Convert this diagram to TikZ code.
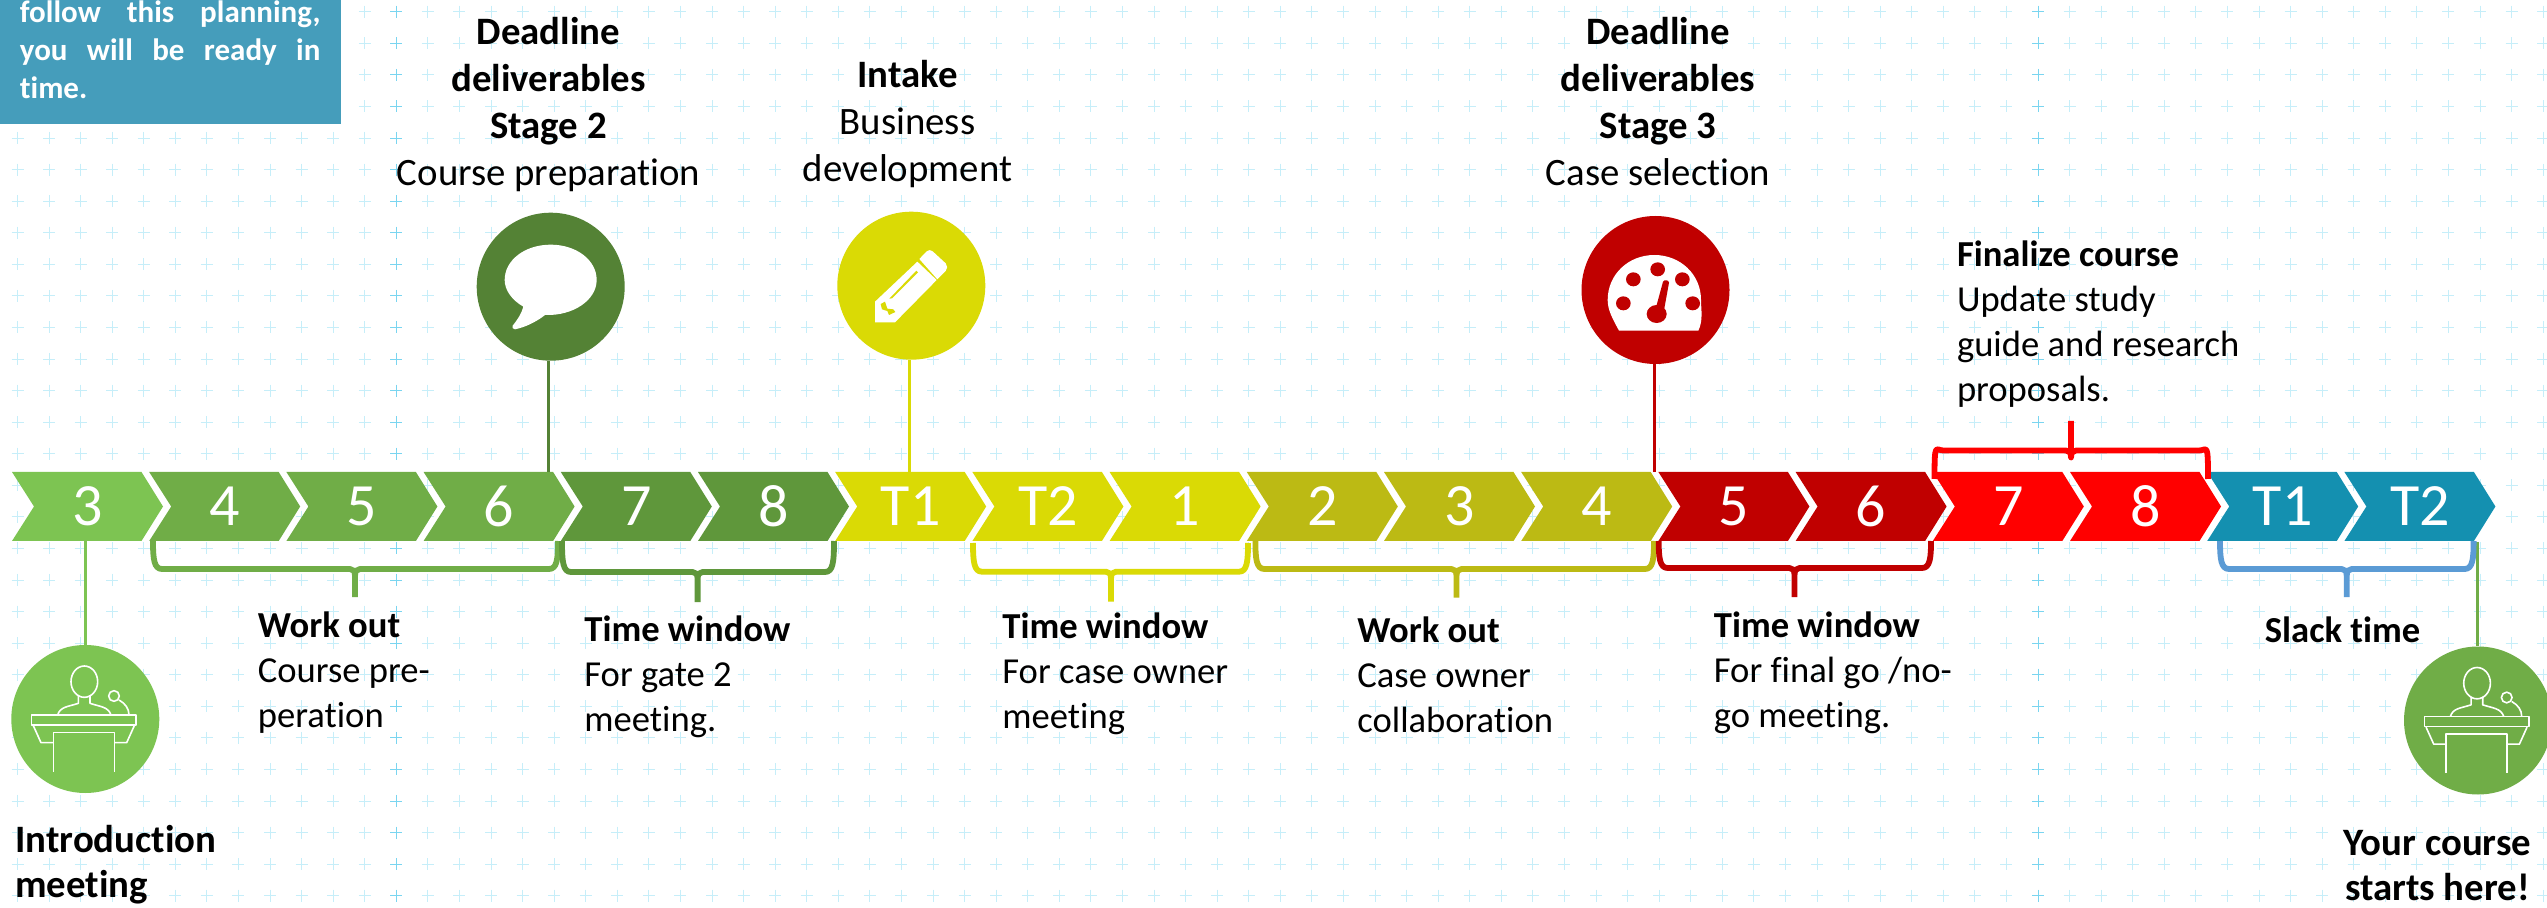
\documentclass[tikz,border=0pt]{standalone}
\usepackage{fontspec}
\setmainfont{Carlito}[Ligatures=NoCommon]
\definecolor{cintro}{HTML}{7DC452}
\definecolor{cgreen}{HTML}{70AD47}
\definecolor{cdkgreen}{HTML}{5F973B}
\definecolor{cstage}{HTML}{548235}
\definecolor{cyellow}{HTML}{DADA05}
\definecolor{colive}{HTML}{BCBA14}
\definecolor{cdkred}{HTML}{C00000}
\definecolor{cred}{HTML}{FF0000}
\definecolor{cteal}{HTML}{1490B0}
\definecolor{cbox}{HTML}{459DBB}
\definecolor{cbrace}{HTML}{5B9BD5}
\definecolor{plusl}{HTML}{C6EEF9}
\definecolor{plusd}{HTML}{7AD5F0}
\newcommand{\Rl}{\rule{0pt}{15pt}}
\tikzset{
  numlab/.style={text=white,inner sep=0pt,font=\fontsize{30}{30}\selectfont},
  sidelab/.style={anchor=north west,inner sep=0pt,align=left,text=black,font=\fontsize{18.3}{22.5}\selectfont},
  biglab/.style={sidelab,font=\fontsize{19.4}{22.5}\selectfont},
  toplab/.style={anchor=north,inner sep=0pt,align=center,text=black,font=\fontsize{19.4}{23.5}\selectfont},
  disc/.style={circle,inner sep=0pt,minimum size=74pt},
  stem/.style={line width=1.5pt},
  brc/.style={line width=2.9pt,line join=round},
  ico/.style={x=0.16667pt,y=-0.16667pt},
  icoline/.style={draw=white,line width=0.8pt,line join=round}
}
% down brace: x1,x2,xtip,ytop,ybar,ytip,colour
\newcommand{\brdown}[7]{%
  \draw[brc,#7] (#1,#4) .. controls (#1,#5-10) and (#1+1,#5) .. (#1+9,#5)
    -- (#3-5,#5) .. controls (#3-2,#5) and (#3,#5+2) .. (#3,#5+7) -- (#3,#6)
    (#3,#5+7) .. controls (#3,#5+2) and (#3+2,#5) .. (#3+5,#5)
    -- (#2-9,#5) .. controls (#2-1,#5) and (#2,#5-10) .. (#2,#4);}
\newcommand{\podium}{%
  \draw[icoline] (238,125) ellipse [x radius=40,y radius=47];
  \draw[icoline] (220,165) -- (220,190) .. controls (190,200) and (165,200) .. (158,225);
  \draw[icoline] (255,165) -- (255,190) .. controls (285,200) and (310,200) .. (318,225);
  \draw[icoline] (327,168) circle [radius=16];
  \draw[icoline] (342,180) .. controls (360,190) and (372,205) .. (372,225);
  \draw[icoline] (80,225) rectangle (393,255);
  \draw[icoline] (85,257) -- (108,308) -- (145,308);
  \draw[icoline] (388,257) -- (365,308) -- (330,308);
  \draw[icoline] (145,395) -- (145,278) -- (328,278) -- (328,395);}
\begin{document}
\begin{tikzpicture}[x=0.5pt,y=-0.5pt]
\useasboundingbox (0,0) rectangle (2547,908);
\fill[white] (0,0) rectangle (2547,908);
% background plus grid
\foreach \i in {0,...,80}{
  \pgfmathsetmacro{\px}{17.5+31.57*\i}
  \ifnum\i=12 \def\pc{plusd}\else\ifnum\i=64 \def\pc{plusd}\else\def\pc{plusl}\fi\fi
  \foreach \j in {0,...,28}{
    \pgfmathsetmacro{\py}{11.7+31.57*\j}
    \draw[\pc,line width=0.45pt] (\px-6,\py) -- (\px+6,\py) (\px,\py-6) -- (\px,\py+6);
  }
}
% info box
\fill[cbox] (0,0) rectangle (341,124);
\node[anchor=north west,inner sep=0pt,align=left,text=white,font=\bfseries\fontsize{15.5}{19}\selectfont] (info) at (19.5,-8.3)
  {\rule{0pt}{15pt}\makebox[150.25pt][s]{follow this planning,}\\\makebox[150.25pt][s]{you will be ready in}\\time.};
% chevrons
\foreach \i/\t/\c in {1/3/cintro,2/4/cgreen,3/5/cgreen,4/6/cgreen,5/7/cdkgreen,6/8/cdkgreen,7/T1/cyellow,8/T2/cyellow,9/1/cyellow,10/2/colive,11/3/colive,12/4/colive,13/5/cdkred,14/6/cdkred,15/7/cred,16/8/cred,17/T1/cteal,18/T2/cteal}{
  \pgfmathsetmacro{\xl}{12+137.2*(\i-1)}
  \fill[\c] (\xl,472) -- (\xl+129.5,472) -- (\xl+151,506.5) -- (\xl+129.5,541) -- (\xl,541) -- (\xl+22,506.5) -- cycle;
  \node[numlab] (c\i) at (\xl+75.5,506) {\t};
}
% discs
\node[disc,fill=cintro] (d1) at (85.3,719) {};
\node[disc,fill=cstage] (d2) at (550.7,286.7) {};
\node[disc,fill=cyellow] (d3) at (911.3,285.7) {};
\node[disc,fill=cdkred] (d4) at (1655.5,290) {};
\node[disc,fill=cgreen] (d5) at (2478,720.5) {};
% stems
\coordinate (j1) at (85,541);
\coordinate (j2) at (548.5,472);
\coordinate (j3) at (909.6,472);
\coordinate (j4) at (1654,472);
\coordinate (j5) at (2477,542);
\draw[stem,cintro] (j1) -- (j1 |- d1.north);
\draw[stem,cstage] (j2 |- d2.south) -- (j2);
\draw[stem,cyellow] (j3 |- d3.south) -- (j3);
\draw[stem,cdkred] (j4 |- d4.south) -- (j4);
\draw[stem,cgreen] (j5) -- (j5 |- d5.north);
% braces
\brdown{153}{558}{355}{541}{569}{597}{cgreen}
\brdown{562}{834}{697.6}{541}{572}{602}{cdkgreen}
\brdown{973}{1248}{1111}{543}{571.7}{601.7}{cyellow}
\brdown{1255.4}{1654}{1456.5}{541}{569}{597.7}{colive}
\brdown{1658.7}{1931}{1794.5}{541}{568}{597}{cdkred}
\brdown{1934.5}{2208}{2071}{479}{450.5}{421}{cred}
\brdown{2220}{2473.6}{2346.7}{541}{569}{597}{cbrace}
% icons
\begin{scope}[shift={(5,640)},ico]
  \podium
\end{scope}
\begin{scope}[shift={(2397.7,641.5)},ico]
  \podium
\end{scope}
\begin{scope}[shift={(470,210)},ico]
  \fill[white] (160,290) .. controls (125,270) and (104,240) .. (104,210)
    .. controls (104,150) and (165,104) .. (242,104)
    .. controls (319,104) and (380,150) .. (380,210)
    .. controls (380,270) and (310,318) .. (225,315)
    .. controls (200,335) and (165,352) .. (135,358)
    .. controls (128,358) and (125,352) .. (128,347)
    .. controls (142,330) and (155,310) .. (160,290) -- cycle;
\end{scope}
\begin{scope}[shift={(830,210)},ico]
  \fill[white] (135,337) -- (195,337) -- (320,210) -- (262,155) -- (135,275) -- cycle;
  \fill[white] (268,147) -- (290,124) .. controls (296,119) and (302,119) .. (308,124)
    -- (347,160) .. controls (353,167) and (353,176) .. (347,183) -- (322,208) -- cycle;
  \fill[cyellow] (259,182) -- (264,187) -- (186,265) -- (178,266) -- cycle;
  \fill[cyellow] (152,282) -- (165,275) -- (172,296) -- (190,298) -- (196,306) -- (177,315) -- (172,303) -- (156,298) -- cycle;
\end{scope}
\begin{scope}[shift={(1575,210)},ico]
  \fill[white] (132,362) .. controls (112,325) and (98,300) .. (98,270)
    .. controls (98,192.7) and (160.7,135) .. (238,135)
    .. controls (315.3,135) and (378,192.7) .. (378,270)
    .. controls (378,300) and (385,330) .. (370,362) -- cycle;
  \fill[cdkred] (145,280) ellipse [x radius=22,y radius=21];
  \fill[cdkred] (175,208) ellipse [x radius=22,y radius=21];
  \fill[cdkred] (248,178) ellipse [x radius=22,y radius=21];
  \fill[cdkred] (322,208) ellipse [x radius=22,y radius=21];
  \fill[cdkred] (353,280) ellipse [x radius=22,y radius=21];
  \fill[cdkred] (245,312) ellipse [x radius=30,y radius=27];
  \fill[cdkred] (243,292) -- (264,215) .. controls (268,208) and (282,210) .. (282,218) -- (268,295) -- cycle;
\end{scope}
% labels
\node[toplab] (t1) at (548.5,14) {\Rl\bfseries Deadline\\\bfseries deliverables\\\bfseries Stage 2\\Course preparation};
\node[toplab] (t2) at (907.5,57.3) {\Rl\bfseries Intake\\Business\\development};
\node[toplab] (t3) at (1658,14) {\Rl\bfseries Deadline\\\bfseries deliverables\\\bfseries Stage 3\\Case selection};
\node[sidelab] (t4) at (1956.6,236.4) {\Rl\textbf{Finalize course}\\Update study\\guide and research\\proposals.};
\node[sidelab] (l1) at (257.5,606.7) {\Rl\textbf{Work out}\\Course pre-\\peration};
\node[sidelab] (l2) at (584,611.3) {\Rl\textbf{Time window}\\For gate 2\\meeting.};
\node[sidelab] (l3) at (1002,607.7) {\Rl\textbf{Time window}\\For case owner\\meeting};
\node[sidelab] (l4) at (1357,611.7) {\Rl\textbf{Work out}\\Case owner\\collaboration};
\node[sidelab] (l5) at (1713.5,607) {\Rl\textbf{Time window}\\For final go /no-\\go meeting.};
\node[sidelab] (l6) at (2264.5,612.4) {\Rl\textbf{Slack time}};
\node[biglab] (l7) at (15,822) {\Rl\textbf{Introduction}\\\textbf{meeting}};
\node[biglab,anchor=north,align=center] (l8) at (2437.5,825.5) {\Rl\textbf{Your course}\\\textbf{starts here!}};
\end{tikzpicture}
\end{document}
